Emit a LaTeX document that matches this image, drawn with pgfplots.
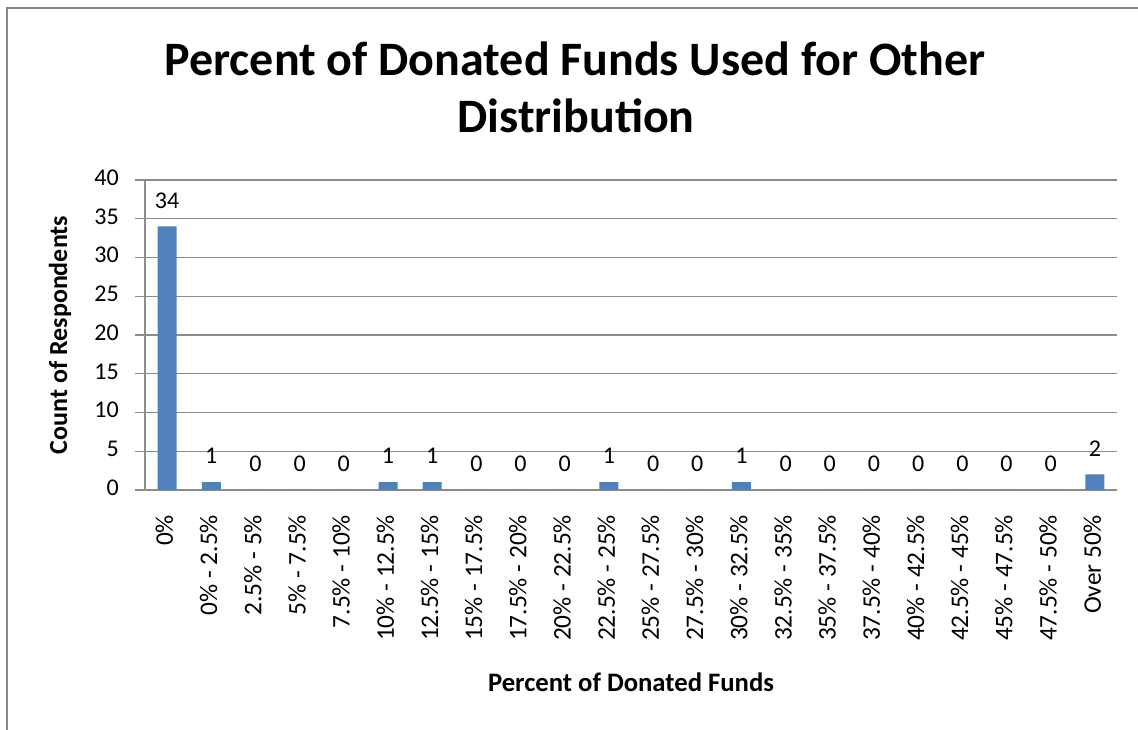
\documentclass[border=0pt]{standalone}
\usepackage{fontspec}
\setmainfont{Carlito}
\usepackage{pgfplots}
\pgfplotsset{compat=1.18}
\definecolor{barblue}{HTML}{4F81BD}
\definecolor{gridgray}{HTML}{8C8C8C}
\definecolor{framegray}{HTML}{868686}
\begin{document}
\begin{tikzpicture}[x=0.75pt,y=0.75pt]
\useasboundingbox (0,0) rectangle (1138,730);
\draw[framegray, line width=1.5pt] (7,0) -- (7,722) -- (1138,722);
\node[font=\bfseries\fontsize{36}{42}\selectfont, anchor=base, inner sep=0pt] at (575,654) {Percent of Donated Funds Used for Other};
\node[font=\bfseries\fontsize{36}{42}\selectfont, anchor=base, inner sep=0pt] at (576,597) {Distribution};
\begin{axis}[
  at={(108.75pt,180pt)}, anchor=south west,
  scale only axis, width=729pt, height=232.5pt,
  ybar, bar width=14.25pt,
  xmin=-0.5, xmax=21.5, ymin=0, ymax=40,
  ytick={0,5,...,40},
  xtick={0,...,21},
  xticklabels={0\%, 0\% - 2.5\%, 2.5\% - 5\%, 5\% - 7.5\%, 7.5\% - 10\%, 10\% - 12.5\%, 12.5\% - 15\%, 15\% - 17.5\%, 17.5\% - 20\%, 20\% - 22.5\%, 22.5\% - 25\%, 25\% - 27.5\%, 27.5\% - 30\%, 30\% - 32.5\%, 32.5\% - 35\%, 35\% - 37.5\%, 37.5\% - 40\%, 40\% - 42.5\%, 42.5\% - 45\%, 45\% - 47.5\%, 47.5\% - 50\%, Over 50\%},
  x tick label style={yshift=-11pt, rotate=90, anchor=east, font=\fontsize{19}{22}\selectfont, inner sep=0pt},
  xtick style={draw=none},
  typeset ticklabels with strut=false,
  y tick label style={font=\fontsize{18}{20}\selectfont, inner sep=0pt, xshift=-12pt},
  /pgf/number format/assume math mode=true,
  ytick style={draw=gridgray, line width=1pt},
  major tick length=7.5pt,
  tick align=outside,
  axis x line*=bottom, axis y line*=left,
  axis line style={draw=gridgray, line width=1pt, -},
  ymajorgrids, major grid style={draw=gridgray, line width=1pt},
  xlabel={Percent of Donated Funds},
  ylabel={Count of Respondents},
  xlabel style={font=\bfseries\fontsize{20}{24}\selectfont, at={(rel axis cs:0.5,0)}, anchor=base, yshift=-151.5pt, inner sep=0pt},
  ylabel style={font=\bfseries\fontsize{19.5}{22}\selectfont, at={(rel axis cs:0,0.5)}, anchor=center, yshift=63.75pt, inner sep=0pt},
  nodes near coords,
  every node near coord/.append style={font=\fontsize{18}{20}\selectfont, inner sep=0pt, yshift=13.5pt, text=black},
  clip=false,
]
\addplot[fill=barblue, draw=none] coordinates {
(0,34) (1,1) (2,0) (3,0) (4,0) (5,1) (6,1) (7,0) (8,0) (9,0) (10,1)
(11,0) (12,0) (13,1) (14,0) (15,0) (16,0) (17,0) (18,0) (19,0) (20,0) (21,2)};
\end{axis}
\end{tikzpicture}
\end{document}
